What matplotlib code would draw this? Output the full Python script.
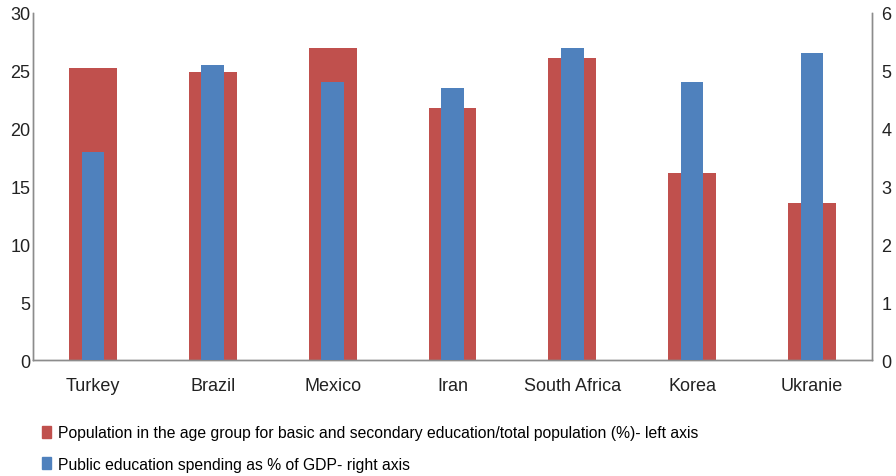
import matplotlib
matplotlib.use("Agg")
import matplotlib.pyplot as plt
import numpy as np
from matplotlib.patches import Patch

# 各国数据
countries = ["Turkey", "Brazil", "Mexico", "Iran", "South Africa", "Korea", "Ukranie"]
pop_share = [25.2, 24.9, 27.0, 21.8, 26.1, 16.2, 13.6]      # left axis, %
edu_spending = [3.6, 5.1, 4.8, 4.7, 5.4, 4.8, 5.3]         # right axis, % of GDP

RED = "#C0504D"
BLUE = "#4F81BD"
AXIS_COLOR = "#8C8C8C"

plt.rcParams["font.family"] = ["Liberation Sans", "DejaVu Sans"]

fig = plt.figure(figsize=(8.96, 4.77), dpi=100)
ax = fig.add_axes([0.037, 0.243, 0.936, 0.728])
ax2 = ax.twinx()

x = np.arange(len(countries))
ax.bar(x, pop_share, width=0.4, color=RED, zorder=2)
ax2.bar(x, edu_spending, width=0.19, color=BLUE, zorder=3)

ax.set_xlim(-0.5, len(countries) - 0.5)
ax.set_ylim(0, 30)
ax2.set_ylim(0, 6)
ax.set_yticks(range(0, 31, 5))
ax2.set_yticks(range(0, 7))
ax.set_xticks(x)
ax.set_xticklabels(countries)

for a in (ax, ax2):
    a.spines["top"].set_visible(False)
    for s in ("left", "right", "bottom"):
        a.spines[s].set_color(AXIS_COLOR)
        a.spines[s].set_linewidth(1.0)
    a.tick_params(axis="both", length=0, labelsize=13, colors="#222222")
ax.tick_params(axis="x", pad=12)
ax.tick_params(axis="y", pad=2)
ax2.tick_params(axis="y", pad=7)

handles = [
    Patch(color=RED, label="Population in the age group for basic and secondary education/total population (%)- left axis"),
    Patch(color=BLUE, label="Public education spending as % of GDP- right axis"),
]
fig.legend(handles=handles, loc="upper left", bbox_to_anchor=(0.040, 0.12),
           frameon=False, handlelength=0.55, handleheight=0.8, handletextpad=0.45,
           labelspacing=1.05, borderaxespad=0,
           prop={"family": ["Liberation Sans Narrow", "Liberation Sans"], "size": 11.3})

fig.savefig("out.png", dpi=100, facecolor="white")
